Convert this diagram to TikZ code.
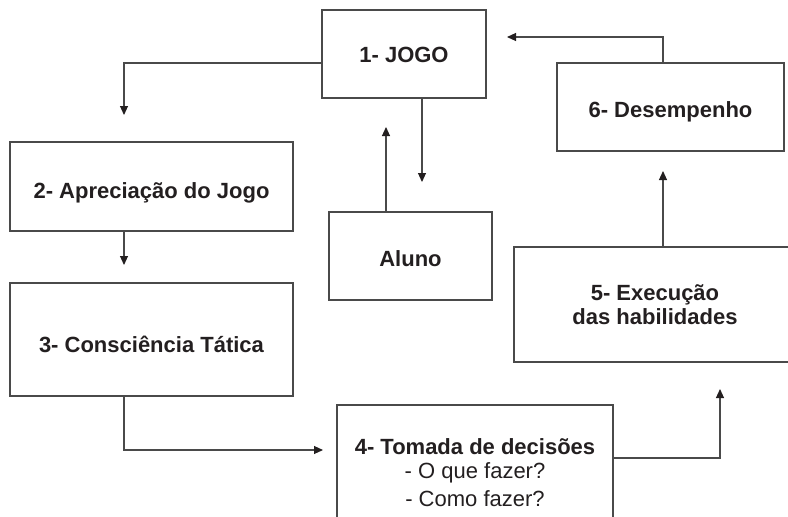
\documentclass[tikz,border=0pt]{standalone}
\usepackage{fontspec}
\setmainfont{Liberation Sans}
\usetikzlibrary{arrows.meta}
\definecolor{lin}{HTML}{4A4A4A}
\definecolor{txt}{HTML}{231F20}
\tikzset{
  box/.style={draw=lin, line width=1.2pt, inner sep=0pt, text=txt,
    font=\fontsize{22}{24}\selectfont\bfseries},
  lower/.style={text height=#1, text depth=1pt},
  conn/.style={draw=lin, line width=1.1pt},
  arr/.style={conn, -{Triangle[length=9pt,width=8pt,fill=txt,color=txt]}}
}
\begin{document}
\begin{tikzpicture}[x=1pt,y=-1pt]
\useasboundingbox (0,0) rectangle (788,517);
\node[box, lower=18.2pt, minimum width=164pt, minimum height=88pt] (b1) at (404,54) {1- JOGO};
\node[box, lower=25.8pt, minimum width=283pt, minimum height=89pt] (b2) at (151.5,186.5) {2- Apreciação do Jogo};
\node[box, lower=26.8pt, minimum width=283pt, minimum height=113pt] (b3) at (151.5,339.5) {3- Consciência Tática};
\node[box, lower=21.4pt, minimum width=163pt, minimum height=88pt] (al) at (410.5,256) {Aluno};
\node[box, lower=21.8pt, minimum width=227pt, minimum height=88pt] (b6) at (670.5,107) {6- Desempenho};
\node[box, align=center, minimum width=282pt, minimum height=115pt] (b5) at (655,304.5) {5- Execução\\das habilidades};
\node[box, align=center, minimum width=276pt, minimum height=135pt] (b4) at (475,472.5) {4- Tomada de decisões\\{\mdseries - O que fazer?}\\[4pt]{\mdseries - Como fazer?}};
% connector endpoints
\coordinate (t2) at (124,115);
\coordinate (t3) at (124,265);
\coordinate (t4) at (323,450);
\coordinate (t5) at (720,389);
\coordinate (t6) at (663,171);
\coordinate (t1) at (507,37);
\coordinate (tal) at (422,182);
\coordinate (t1b) at (386,127);
\draw[arr] (b1.west |- 0,63) -| (t2);
\draw[arr] (t3 |- b2.south) -- (t3);
\draw[arr] (t3 |- b3.south) |- (t4);
\draw[arr] (b4.east |- 0,458) -| (t5);
\draw[arr] (t6 |- b5.north) -- (t6);
\draw[arr] (b6.north -| 663,0) |- (t1);
\draw[arr] (tal |- b1.south) -- (tal);
\draw[arr] (t1b |- al.north) -- (t1b);
\end{tikzpicture}
\end{document}
